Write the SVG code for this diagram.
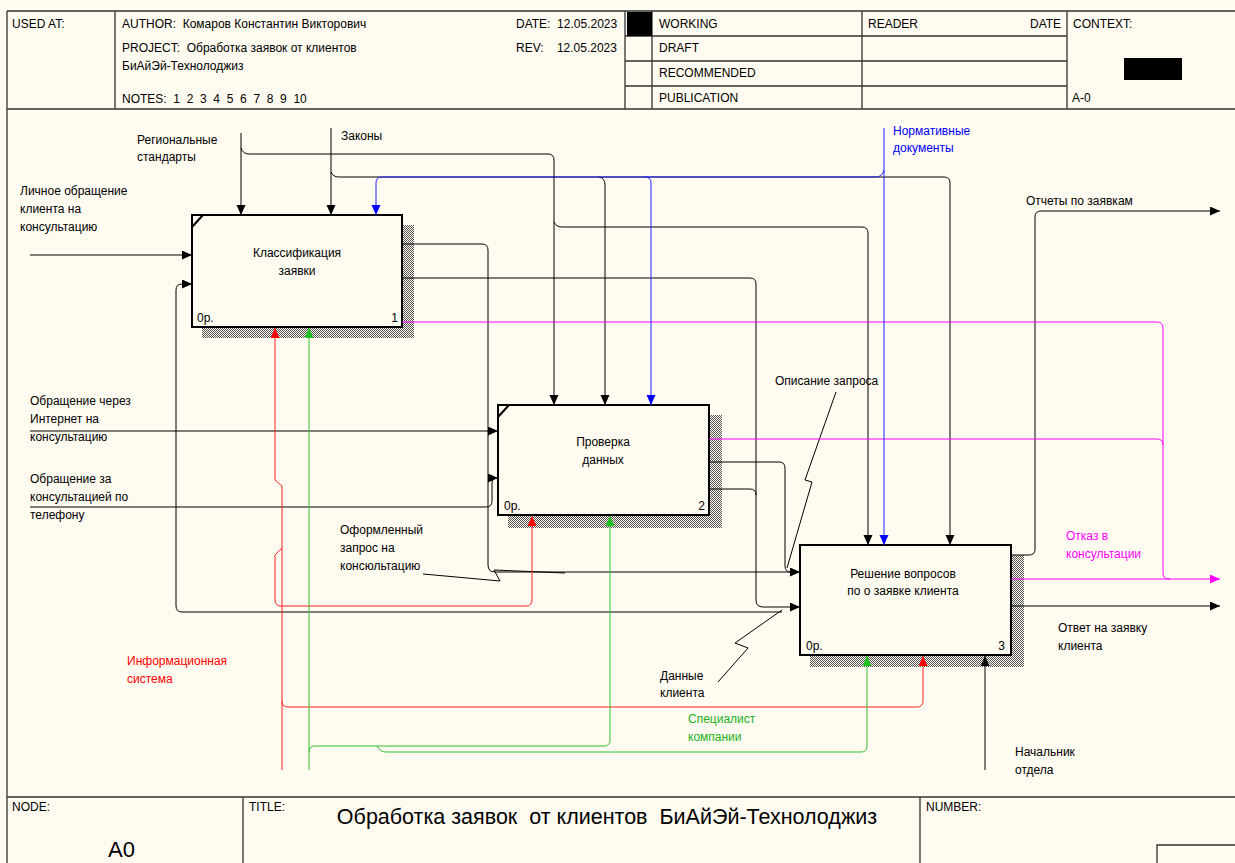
<svg xmlns="http://www.w3.org/2000/svg" width="1235" height="863" viewBox="0 0 1235 863">
<defs>
<style>
text{font-family:"Liberation Sans",Arial,sans-serif;font-size:12px;fill:#000}
.pre{white-space:pre}
.fr{stroke:#333;stroke-width:1.3;fill:none}
.box{fill:#FFFBF0;stroke:#000;stroke-width:2}
.c{fill:none;stroke:#000;stroke-width:1}
.k{marker-end:url(#ak)}
.b{stroke:#2020FF}
.r{stroke:#FF2020}
.g{stroke:#30C030}
.m{stroke:#FF00FF}
.ctr{text-anchor:middle}
.end{text-anchor:end}
</style>
<pattern id="hatch" width="2" height="2" patternUnits="userSpaceOnUse">
<rect width="2" height="2" fill="#FFFBF0"/>
<rect width="1" height="1" fill="#555"/>
<rect x="1" y="1" width="1" height="1" fill="#555"/>
</pattern>
<marker id="ak" markerUnits="userSpaceOnUse" markerWidth="11" markerHeight="10" refX="10" refY="4.5" orient="auto"><path d="M0,0 L10,4.5 L0,9 Z" fill="#000"/></marker>
<marker id="ab" markerUnits="userSpaceOnUse" markerWidth="11" markerHeight="10" refX="10" refY="4.5" orient="auto"><path d="M0,0 L10,4.5 L0,9 Z" fill="#0000FF"/></marker>
<marker id="ar" markerUnits="userSpaceOnUse" markerWidth="11" markerHeight="10" refX="10" refY="4.5" orient="auto"><path d="M0,0 L10,4.5 L0,9 Z" fill="#FF0000"/></marker>
<marker id="ag" markerUnits="userSpaceOnUse" markerWidth="11" markerHeight="10" refX="10" refY="4.5" orient="auto"><path d="M0,0 L10,4.5 L0,9 Z" fill="#20C020"/></marker>
<marker id="am" markerUnits="userSpaceOnUse" markerWidth="11" markerHeight="10" refX="10" refY="4.5" orient="auto"><path d="M0,0 L10,4.5 L0,9 Z" fill="#FF00FF"/></marker>
</defs>
<rect width="1235" height="863" fill="#FFFBF0"/>

<g id="frame">
<path class="fr" d="M7,11 H1235 M7,11 V863 M7,109 H1235 M7,797 H1235"/>
<path class="fr" d="M115,11 V109 M625,11 V109 M652,11 V109 M862,11 V109 M1067,11 V109 M625,36 H1067 M625,61 H1067 M625,86 H1067"/>
<path class="fr" d="M243,797 V863 M920,797 V863 M1157,863 V845 H1235"/>
<rect x="627" y="12" width="25" height="24" fill="#000"/>
<rect x="1124" y="58" width="58" height="22" fill="#000"/>
<text x="12" y="28">USED AT:</text>
<text x="122" y="28" class="pre">AUTHOR:  Комаров Константин Викторович</text>
<text x="122" y="52" class="pre">PROJECT:  Обработка заявок от клиентов</text>
<text x="122" y="70">БиАйЭй-Технолоджиз</text>
<text x="122" y="103" class="pre">NOTES:  1  2  3  4  5  6  7  8  9  10</text>
<text x="516" y="28" class="pre">DATE:  12.05.2023</text>
<text x="516" y="52" class="pre">REV:    12.05.2023</text>
<text x="659" y="28">WORKING</text>
<text x="659" y="52">DRAFT</text>
<text x="659" y="77">RECOMMENDED</text>
<text x="659" y="102">PUBLICATION</text>
<text x="868" y="28">READER</text>
<text x="1030" y="28">DATE</text>
<text x="1073" y="28">CONTEXT:</text>
<text x="1072" y="102">A-0</text>
<text x="12" y="811">NODE:</text>
<text x="249" y="811">TITLE:</text>
<text x="926" y="811">NUMBER:</text>
<text x="108" y="857" style="font-size:22px">A0</text>
<text x="607" y="824" class="ctr pre" style="font-size:21.5px">Обработка заявок  от клиентов  БиАйЭй-Технолоджиз</text>
</g>

<g id="node1">
<rect x="202" y="225" width="212" height="113" fill="url(#hatch)"/>
<rect class="box" x="192" y="215" width="210" height="112"/>
<line x1="192" y1="227" x2="203" y2="215" stroke="#000" stroke-width="2"/>
<text x="297" y="257" class="ctr">Классификация</text>
<text x="297" y="275" class="ctr">заявки</text>
<text x="197" y="322">0р.</text>
<text x="398" y="322" class="end">1</text>
</g>

<g id="node2">
<rect x="508" y="415" width="214" height="113" fill="url(#hatch)"/>
<rect class="box" x="498" y="405" width="211" height="110"/>
<line x1="498" y1="417" x2="509" y2="405" stroke="#000" stroke-width="2"/>
<text x="603" y="446" class="ctr">Проверка</text>
<text x="603" y="464" class="ctr">данных</text>
<text x="504" y="510">0р.</text>
<text x="705" y="510" class="end">2</text>
</g>

<g id="node3">
<rect x="810" y="555" width="214" height="112" fill="url(#hatch)"/>
<rect class="box" x="800" y="545" width="211" height="110"/>
<text x="903" y="578" class="ctr">Решение вопросов</text>
<text x="903" y="595" class="ctr">по о заявке клиента</text>
<text x="806" y="650">0р.</text>
<text x="1005" y="650" class="end">3</text>
</g>

<g id="connectors">
<!-- black -->
<path class="c k" d="M30,255 H192"/>
<path class="c k" d="M241,133 V215"/>
<path class="c k" d="M241,148 Q243,154 249,154 H548 Q554,154 554,160 V405"/>
<path class="c k" d="M554,222 Q556,227 562,227 H862 Q868,227 868,233 V545"/>
<path class="c k" d="M331,128 V215"/>
<path class="c k" d="M331,172 Q333,177 339,177 H944 Q950,177 950,183 V545"/>
<path class="c k" d="M599,177 Q605,178 605,185 V405"/>
<path class="c k" d="M402,244 H482 Q488,244 488,250 V565 Q488,572 495,572 H800"/>
<path class="c k" d="M402,278 H750 Q756,278 756,284 V600 Q756,607 763,607 H800"/>
<path class="c" d="M709,462 H779 Q785,462 785,468 V566 Q785,572 791,572"/>
<path class="c" d="M709,489 H750 Q756,489 756,495"/>
<path class="c k" d="M782,612 H182 Q176,612 176,606 V290 Q176,284 182,284 H192"/>
<path class="c k" d="M30,431 H498"/>
<path class="c k" d="M30,507 H486 Q492,507 492,501 V484 Q492,478 496,478 H498"/>
<path class="c k" d="M1011,555 H1029 Q1035,555 1035,549 V217 Q1035,211 1041,211 H1220"/>
<path class="c k" d="M1011,606 H1220"/>
<path class="c k" d="M985,770 V656"/>
<!-- label leaders -->
<polyline class="c" points="423,574 500,581 494,570 565,573"/>
<polyline class="c" points="836,392 805,480 812,482 787,568"/>
<polyline class="c" points="718,682 748,648 735,643 782,610"/>
<!-- magenta -->
<path class="c m" d="M402,322 H1157 Q1163,322 1163,328 V573 Q1163,579 1169,579 H1220" marker-end="url(#am)"/>
<path class="c m" d="M709,439 H1157 Q1163,439 1163,445"/>
<path class="c m" d="M1011,579 H1170"/>
<!-- blue -->
<path class="c b" d="M884,128 V545" marker-end="url(#ab)"/>
<path class="c b" d="M884,170 Q882,177 876,177 H382 Q376,177 376,183 V215" marker-end="url(#ab)"/>
<path class="c b" d="M645,177 Q651,177 651,183 V405" marker-end="url(#ab)"/>
<!-- red -->
<path class="c r" d="M282,770 V486 L275,480 V328" marker-end="url(#ar)"/>
<path class="c r" d="M282,548 L275,555 V600 Q275,606 281,606 H526 Q532,606 532,600 V516" marker-end="url(#ar)"/>
<path class="c r" d="M282,701 Q282,707 288,707 H917 Q923,707 923,701 V656" marker-end="url(#ar)"/>
<!-- green -->
<path class="c g" d="M309,770 V328" marker-end="url(#ag)"/>
<path class="c g" d="M309,752 Q309,746 315,746 H604 Q610,746 610,740 V516" marker-end="url(#ag)"/>
<path class="c g" d="M377,746 Q380,752 386,752 H861 Q867,752 867,746 V656" marker-end="url(#ag)"/>
</g>

<g id="labels">
<text x="137" y="144">Региональные</text>
<text x="137" y="161">стандарты</text>
<text x="341" y="140">Законы</text>
<text x="20" y="195">Личное обращение</text>
<text x="20" y="213">клиента на</text>
<text x="20" y="231">консультацию</text>
<text x="893" y="135" style="fill:#0000FF">Нормативные</text>
<text x="893" y="152" style="fill:#0000FF">документы</text>
<text x="1026" y="205">Отчеты по заявкам</text>
<text x="30" y="405">Обращение через</text>
<text x="30" y="423">Интернет на</text>
<text x="30" y="441">консультацию</text>
<text x="30" y="483">Обращение за</text>
<text x="30" y="501">консультацией по</text>
<text x="30" y="519">телефону</text>
<text x="340" y="534">Оформленный</text>
<text x="340" y="552">запрос на</text>
<text x="340" y="570">консюльтацию</text>
<text x="775" y="385">Описание запроса</text>
<text x="1066" y="540" style="fill:#FF00FF">Отказ в</text>
<text x="1066" y="558" style="fill:#FF00FF">консультации</text>
<text x="1058" y="632">Ответ на заявку</text>
<text x="1058" y="650">клиента</text>
<text x="127" y="665" style="fill:#FF0000">Информационная</text>
<text x="127" y="683" style="fill:#FF0000">система</text>
<text x="660" y="680">Данные</text>
<text x="660" y="697">клиента</text>
<text x="688" y="723" style="fill:#20B020">Специалист</text>
<text x="688" y="741" style="fill:#20B020">компании</text>
<text x="1015" y="756">Начальник</text>
<text x="1015" y="774">отдела</text>
</g>
</svg>
